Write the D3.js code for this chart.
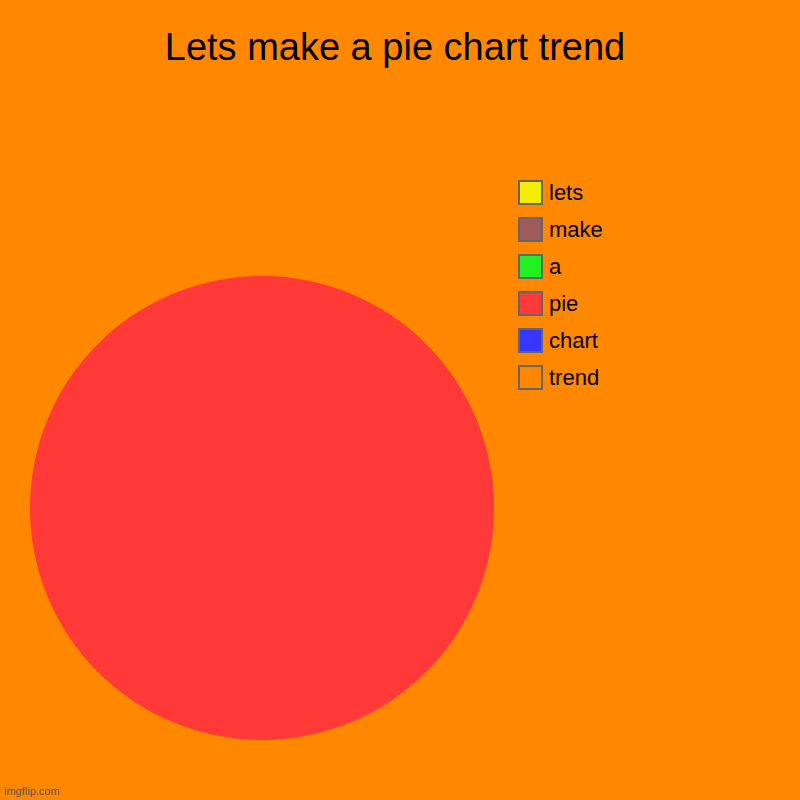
<!DOCTYPE html>
<html>
<head>
<meta charset="utf-8">
<script src="https://cdn.jsdelivr.net/npm/d3@7"></script>
<style>
  body { margin: 0; background: #ff8800; }
  svg { display: block; font-family: "Liberation Sans", Arial, sans-serif; }
</style>
</head>
<body>
<div id="chart"></div>
<script>
// chart data
const labels = ["lets", "make", "a", "pie", "chart", "trend"];
const values = [0, 0, 0, 1, 0, 0];
const colors = ["#f2ed00", "#9c5a5a", "#22f022", "#ff3838", "#3636ff", "#ff8800"];

const width = 800, height = 800;

const svg = d3.select("#chart").append("svg")
    .attr("width", width)
    .attr("height", height);

svg.append("rect")
    .attr("width", width)
    .attr("height", height)
    .attr("fill", "#ff8800");

// title
svg.append("text")
    .attr("x", 395)
    .attr("y", 60)
    .attr("text-anchor", "middle")
    .attr("font-size", 38)
    .attr("fill", "#000")
    .text("Lets make a pie chart trend");

// pie
const data = labels.map((l, i) => ({label: l, value: values[i], color: colors[i]}));

const pie = d3.pie()
    .sort(null)
    .value(d => d.value);

const arc = d3.arc()
    .innerRadius(0)
    .outerRadius(232);

svg.append("g")
    .attr("transform", "translate(262, 508)")
    .selectAll("path")
    .data(pie(data))
    .join("path")
    .attr("d", arc)
    .attr("fill", d => d.data.color);

// legend
const legendY = d3.scaleBand()
    .domain(labels)
    .range([179, 179 + 37 * labels.length]);

const legend = svg.append("g")
    .selectAll("g")
    .data(data)
    .join("g")
    .attr("transform", d => `translate(519, ${legendY(d.label)})`);

legend.append("rect")
    .attr("x", 0)
    .attr("y", 2)
    .attr("width", 23)
    .attr("height", 23)
    .attr("fill", d => d.color)
    .attr("stroke", "#666")
    .attr("stroke-width", 2);

legend.append("text")
    .attr("x", 30)
    .attr("y", 21)
    .attr("font-size", 22)
    .attr("fill", "#000")
    .text(d => d.label);

// watermark
svg.append("text")
    .attr("x", 4)
    .attr("y", 795)
    .attr("font-size", 11)
    .attr("fill", "#555")
    .text("imgflip.com");
</script>
</body>
</html>
